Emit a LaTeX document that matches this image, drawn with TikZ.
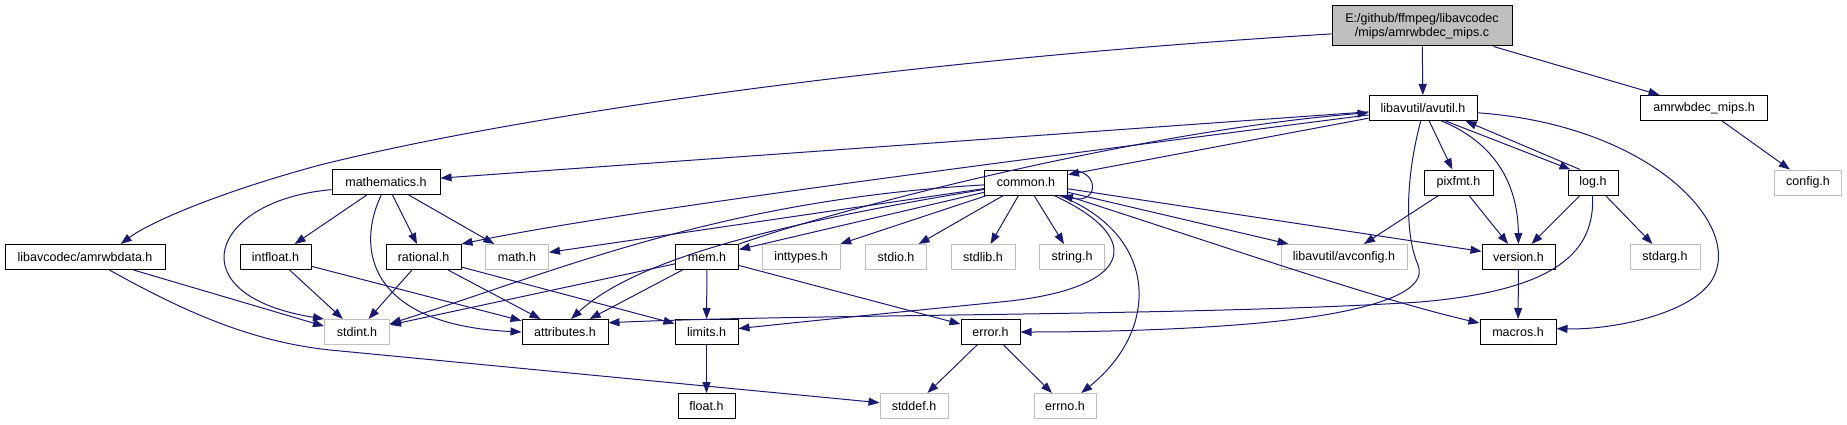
\documentclass[tikz,border=0pt]{standalone}
\usepackage{fontspec}
\setmainfont{Liberation Sans}
\usetikzlibrary{arrows.meta}

\definecolor{edgeblue}{HTML}{191970}
\definecolor{sysgray}{HTML}{BFBFBF}

\tikzset{
  hfile/.style={draw=black, fill=white, line width=1pt, minimum height=25pt,
    inner sep=0pt, font=\fontsize{12.5}{14}\selectfont},
  sysfile/.style={hfile, draw=sysgray},
  mainfile/.style={hfile, fill=sysgray, minimum height=40pt, align=center},
  dep/.style={draw=edgeblue, line width=1pt, -{Triangle[length=11pt,width=8pt]}},
}

\begin{document}
\begin{tikzpicture}[x=1pt,y=-1pt]
  \useasboundingbox (0,0) rectangle (1847,425);
  % files
  \node[mainfile, minimum width=180pt] (main) at (1422,26) {E:/github/ffmpeg/libavcodec\\/mips/amrwbdec\_mips.c};
  \node[hfile, minimum width=108pt] (avutil) at (1423,108) {libavutil/avutil.h};
  \node[hfile, minimum width=127pt] (amrwbmips) at (1704,108) {amrwbdec\_mips.h};
  \node[hfile, minimum width=108pt] (mathematics) at (386,182) {mathematics.h};
  \node[hfile, minimum width=83pt] (common) at (1026,182.5) {common.h};
  \node[hfile, minimum width=69pt] (pixfmt) at (1458.5,182.5) {pixfmt.h};
  \node[hfile, minimum width=50pt] (logh) at (1593,182.5) {log.h};
  \node[sysfile, minimum width=67pt] (config) at (1808,182.5) {config.h};
  \node[hfile, minimum width=160pt] (amrwbdata) at (85,257) {libavcodec/amrwbdata.h};
  \node[hfile, minimum width=71pt] (intfloat) at (275.5,257) {intfloat.h};
  \node[hfile, minimum width=75pt] (rational) at (423.5,257) {rational.h};
  \node[sysfile, minimum width=63pt] (mathh) at (517,257) {math.h};
  \node[hfile, minimum width=63pt] (mem) at (707,257) {mem.h};
  \node[sysfile, minimum width=78pt] (inttypes) at (801,257) {inttypes.h};
  \node[sysfile, minimum width=61pt] (stdio) at (896,257) {stdio.h};
  \node[sysfile, minimum width=64pt] (stdlib) at (983,257) {stdlib.h};
  \node[sysfile, minimum width=65pt] (string) at (1072,257) {string.h};
  \node[sysfile, minimum width=126pt] (avconfig) at (1344,257) {libavutil/avconfig.h};
  \node[hfile, minimum width=73pt] (version) at (1518.5,257) {version.h};
  \node[sysfile, minimum width=70pt] (stdarg) at (1665,257) {stdarg.h};
  \node[sysfile, minimum width=65pt] (stdint) at (357,332) {stdint.h};
  \node[hfile, minimum width=86pt] (attributes) at (565,332) {attributes.h};
  \node[hfile, minimum width=63pt] (limits) at (706.5,332) {limits.h};
  \node[hfile, minimum width=59pt] (error) at (990.5,332) {error.h};
  \node[hfile, minimum width=76pt] (macros) at (1518,332) {macros.h};
  \node[hfile, minimum width=57pt] (float) at (706.5,406) {float.h};
  \node[sysfile, minimum width=68pt] (stddef) at (914,406) {stddef.h};
  \node[sysfile, minimum width=62pt] (errno) at (1065,406) {errno.h};

  % includes of the source file
  \draw[dep] (main) -- (avutil);
  \draw[dep] (main.-16) -- (amrwbmips);
  \draw[dep] (main.185) .. controls (900,60) and (520,115) .. (320,165)
    .. controls (220,192) and (150,222) .. (amrwbdata.20);
  \draw[dep] (amrwbmips) -- (config);
  \draw[dep] (amrwbdata.-15) -- (stdint.170);
  \draw[dep] (amrwbdata.-28) .. controls (190,315) and (255,342) .. (330,350) -- (stddef);

  % avutil.h
  \draw[dep] (avutil) -- (mathematics);
  \draw[dep] (avutil) .. controls (900,175) and (600,215) .. (rational.north east);
  \draw[dep] (avutil) -- (common);
  \draw[dep] (avutil) -- (pixfmt);
  \draw[dep] (avutil.-30) -- (logh.150);
  \draw[dep] (logh.135) -- (avutil.-17);
  \draw[dep] (avutil.-35) .. controls (1500,145) and (1518,190) .. (version);
  \draw[dep] (avutil.-5) .. controls (1650,125) and (1745,225) .. (1712,280)
    .. controls (1690,315) and (1610,330) .. (macros.5);
  \draw[dep] (avutil.-100) .. controls (1405,180) and (1405,235) .. (1418,265)
    .. controls (1428,290) and (1380,305) .. (1330,314)
    .. controls (1250,328) and (1120,332) .. (error);

  % common.h
  \draw[dep] (common.16) .. controls (1100,168) and (1100,205) .. (common.-20);
  \draw[dep] (common) -- (mem);
  \draw[dep] (common) -- (inttypes);
  \draw[dep] (common) -- (stdio);
  \draw[dep] (common) -- (stdlib);
  \draw[dep] (common) -- (string);
  \draw[dep] (common) -- (mathh);
  \draw[dep] (common) -- (avconfig);
  \draw[dep] (common) -- (version);
  \draw[dep] (common) .. controls (1250,255) and (1380,300) .. (macros);
  \draw[dep] (common) .. controls (1150,240) and (1130,290) .. (1000,302)
    .. controls (900,312) and (800,322) .. (limits);
  \draw[dep] (common) .. controls (1160,235) and (1160,330) .. (errno);
  \draw[dep] (common) .. controls (800,220) and (640,255) .. (attributes.65);
  \draw[dep] (common) .. controls (720,200) and (560,270) .. (stdint.14);

  % mem.h
  \draw[dep] (mem.north east) .. controls (850,205) and (1150,130) .. (avutil.185);
  \draw[dep] (mem) -- (limits);
  \draw[dep] (mem) -- (error);
  \draw[dep] (mem) -- (attributes);
  \draw[dep] (mem) -- (stdint);

  % mathematics.h
  \draw[dep] (mathematics) -- (intfloat);
  \draw[dep] (mathematics) -- (rational);
  \draw[dep] (mathematics) -- (mathh);
  \draw[dep] (mathematics.-110) .. controls (355,250) and (370,325) .. (attributes.west);
  \draw[dep] (mathematics.188) .. controls (210,200) and (175,295) .. (stdint.north west);
  \draw[dep] (intfloat) -- (stdint);
  \draw[dep] (intfloat) -- (attributes);
  \draw[dep] (rational) -- (stdint);
  \draw[dep] (rational) -- (attributes);
  \draw[dep] (rational) -- (limits);

  % pixfmt.h, log.h and the rest
  \draw[dep] (pixfmt) -- (avconfig);
  \draw[dep] (pixfmt) -- (version);
  \draw[dep] (logh) -- (version);
  \draw[dep] (logh) -- (stdarg);
  \draw[dep] (logh.-92) .. controls (1595,250) and (1560,290) .. (1420,302)
    .. controls (1200,316) and (800,314) .. (attributes.12);
  \draw[dep] (version) -- (macros);
  \draw[dep] (limits) -- (float);
  \draw[dep] (error) -- (stddef);
  \draw[dep] (error) -- (errno);
\end{tikzpicture}
\end{document}
